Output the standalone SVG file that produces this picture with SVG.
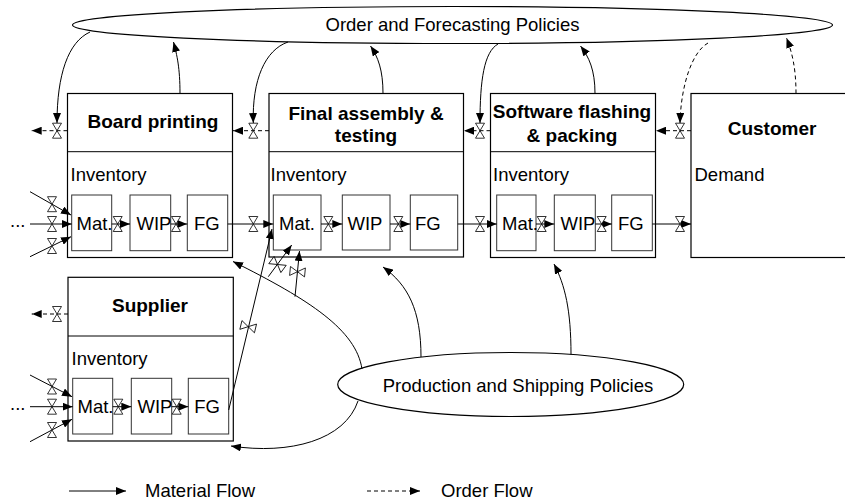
<svg xmlns="http://www.w3.org/2000/svg" width="845" height="504" viewBox="0 0 845 504">
<defs>
<style>
.box{fill:#fff;stroke:#000;stroke-width:1.2}
.inner{fill:#fff;stroke:#333;stroke-width:1}
.div{stroke:#000;stroke-width:1}
.t{font-family:"Liberation Sans",Arial,sans-serif;font-size:18.5px;fill:#000}
.b{font-family:"Liberation Sans",Arial,sans-serif;font-size:19px;font-weight:bold;fill:#000}
.m{fill:none;stroke:#000;stroke-width:1;marker-end:url(#arr)}
.o{fill:none;stroke:#000;stroke-width:1;stroke-dasharray:4 3;marker-end:url(#arr)}
.ell{fill:#fff;stroke:#000;stroke-width:1.2}
.v{fill:#fff;stroke:#000;stroke-width:0.8}
</style>
<marker id="arr" markerUnits="userSpaceOnUse" markerWidth="10" markerHeight="8" refX="10" refY="4" orient="auto" viewBox="0 0 10 8">
<path d="M0,0 L10,4 L0,8 Z" fill="#000"/>
</marker>
<path id="valve" d="M-4.5,-7.5 L4.5,-7.5 L-4.5,7.5 L4.5,7.5 Z"/>
</defs>

<g id="order-policies">
<ellipse class="ell" cx="452.5" cy="25" rx="380" ry="18.5"/>
<text class="t" x="452.5" y="31" text-anchor="middle" font-size="16.5">Order and Forecasting Policies</text>
</g>

<g id="production-policies">
<ellipse class="ell" cx="510.7" cy="384.5" rx="173" ry="32"/>
<text class="t" x="518" y="391.5" text-anchor="middle" font-size="18">Production and Shipping Policies</text>
</g>

<g id="board-printing">
<rect class="box" x="67.5" y="93.5" width="165" height="164"/>
<line class="div" x1="67.5" y1="151.7" x2="232.5" y2="151.7"/>
<text class="b" x="153" y="128" text-anchor="middle">Board printing</text>
<text class="t" x="70.5" y="181">Inventory</text>
<rect class="inner" x="71.7" y="195" width="40" height="55.7"/>
<rect class="inner" x="130" y="195" width="40.7" height="55.7"/>
<rect class="inner" x="187.3" y="195" width="40.4" height="55.7"/>
<text class="t" x="76.5" y="229.5">Mat.</text>
<text class="t" x="136.5" y="229.5">WIP</text>
<text class="t" x="194" y="229.5">FG</text>
</g>

<g id="final-assembly">
<rect class="box" x="269" y="93.5" width="194.5" height="163.5"/>
<line class="div" x1="269" y1="151.7" x2="463.5" y2="151.7"/>
<text class="b" x="366" y="119.5" text-anchor="middle">Final assembly &amp;</text>
<text class="b" x="366" y="142" text-anchor="middle">testing</text>
<text class="t" x="270.5" y="181">Inventory</text>
<rect class="inner" x="273.3" y="195" width="47.7" height="55"/>
<rect class="inner" x="342.3" y="195" width="47.7" height="55"/>
<rect class="inner" x="410.3" y="195" width="47.4" height="55"/>
<text class="t" x="279" y="229.5">Mat.</text>
<text class="t" x="347.5" y="229.5">WIP</text>
<text class="t" x="415" y="229.5">FG</text>
</g>

<g id="software-flashing">
<rect class="box" x="490.5" y="93.5" width="165" height="164"/>
<line class="div" x1="490.5" y1="151.7" x2="655.5" y2="151.7"/>
<text class="b" x="572" y="118.3" text-anchor="middle">Software flashing</text>
<text class="b" x="572" y="141.7" text-anchor="middle">&amp; packing</text>
<text class="t" x="493" y="181">Inventory</text>
<rect class="inner" x="496.7" y="195" width="39.3" height="55.7"/>
<rect class="inner" x="554.3" y="195" width="41" height="55.7"/>
<rect class="inner" x="611.7" y="195" width="40.6" height="55.7"/>
<text class="t" x="502" y="229.5">Mat.</text>
<text class="t" x="560.5" y="229.5">WIP</text>
<text class="t" x="618" y="229.5">FG</text>
</g>

<g id="customer">
<rect class="box" x="691" y="93.5" width="200" height="164"/>
<text class="b" x="772" y="135" text-anchor="middle">Customer</text>
<text class="t" x="694.5" y="181">Demand</text>
</g>

<g id="supplier">
<rect class="box" x="68" y="277.3" width="165.3" height="163.7"/>
<line class="div" x1="68" y1="336" x2="233.3" y2="336"/>
<text class="b" x="150" y="311.7" text-anchor="middle">Supplier</text>
<text class="t" x="71.5" y="365">Inventory</text>
<rect class="inner" x="72.7" y="378.3" width="40" height="55.7"/>
<rect class="inner" x="131.3" y="378.3" width="40.4" height="55.7"/>
<rect class="inner" x="188.3" y="378.3" width="40.4" height="55.7"/>
<text class="t" x="77.5" y="413.3">Mat.</text>
<text class="t" x="137.5" y="413.3">WIP</text>
<text class="t" x="194.3" y="413.3">FG</text>
</g>

<g id="connectors">
<path class="m" d="M90,32 C68,42 57,75 57,123"/>
<path class="m" d="M180,93.5 C180,68 177,55 173.5,42"/>
<path class="m" d="M288,42 C265,50 252,80 253.3,123"/>
<path class="m" d="M383,93.5 C383,70 378,57 370.5,46"/>
<path class="m" d="M498,44 C484,52 480,80 480,123"/>
<path class="m" d="M595,93.5 C595,70 589,57 580.5,46"/>
<path class="o" d="M708,43 C692,52 681,85 680,123"/>
<path class="o" d="M796,93.5 C796,68 792,52 786.5,38"/>
<path class="m" d="M362,369 C356,330 310,300 233,261.5"/>
<path class="m" d="M358,401 C345,440 290,455 231,446"/>
<path class="m" d="M421,357 C421,310 408,285 383,267"/>
<path class="m" d="M571,354.5 C571,310 565,285 554,264"/>
<line class="o" x1="67.5" y1="130.7" x2="31.7" y2="130.7"/>
<line class="o" x1="269" y1="130.7" x2="233" y2="130.7"/>
<line class="o" x1="490.5" y1="130.7" x2="464" y2="130.7"/>
<line class="o" x1="691" y1="130.7" x2="656" y2="130.7"/>
<line class="o" x1="68" y1="314" x2="31.7" y2="314"/>
<line class="m" x1="30" y1="191.7" x2="71" y2="215"/>
<line class="m" x1="30" y1="224" x2="71.7" y2="224"/>
<line class="m" x1="30" y1="256.7" x2="71" y2="236.7"/>
<line class="m" x1="111.7" y1="224" x2="130" y2="224"/>
<line class="m" x1="170.7" y1="224" x2="187.3" y2="224"/>
<line class="m" x1="227.7" y1="224" x2="273.3" y2="224"/>
<line class="m" x1="321" y1="224" x2="342.3" y2="224"/>
<line class="m" x1="390" y1="224" x2="410.3" y2="224"/>
<line class="m" x1="457.7" y1="224" x2="496.7" y2="224"/>
<line class="m" x1="536" y1="224" x2="554.3" y2="224"/>
<line class="m" x1="595.3" y1="224" x2="611.7" y2="224"/>
<line class="m" x1="652.3" y1="224" x2="691" y2="224"/>
<line class="m" x1="30" y1="375" x2="72" y2="396.7"/>
<line class="m" x1="30" y1="406.7" x2="72.7" y2="406.7"/>
<line class="m" x1="30" y1="441.7" x2="72" y2="419.3"/>
<line class="m" x1="112.7" y1="406.7" x2="131.3" y2="406.7"/>
<line class="m" x1="171.7" y1="406.7" x2="188.3" y2="406.7"/>
<line class="m" x1="228.7" y1="410" x2="272" y2="229"/>
<line class="m" x1="268.3" y1="276.7" x2="291.7" y2="245"/>
<line class="m" x1="295" y1="296.7" x2="299.5" y2="251"/>
<use href="#valve" class="v" x="57" y="130.7"/>
<use href="#valve" class="v" x="253.3" y="130.7"/>
<use href="#valve" class="v" x="480" y="130.7"/>
<use href="#valve" class="v" x="680" y="130.7"/>
<use href="#valve" class="v" x="57" y="314"/>
<use href="#valve" class="v" x="52" y="204.2"/>
<use href="#valve" class="v" x="52" y="224"/>
<use href="#valve" class="v" x="52" y="246"/>
<use href="#valve" class="v" x="117.7" y="224"/>
<use href="#valve" class="v" x="176" y="224"/>
<use href="#valve" class="v" x="253.3" y="224"/>
<use href="#valve" class="v" x="328.3" y="224"/>
<use href="#valve" class="v" x="398.3" y="224"/>
<use href="#valve" class="v" x="480" y="224"/>
<use href="#valve" class="v" x="541.7" y="224"/>
<use href="#valve" class="v" x="601.7" y="224"/>
<use href="#valve" class="v" x="680" y="224"/>
<use href="#valve" class="v" x="52" y="386.5"/>
<use href="#valve" class="v" x="52" y="406.7"/>
<use href="#valve" class="v" x="52" y="430"/>
<use href="#valve" class="v" x="118.3" y="406.7"/>
<use href="#valve" class="v" x="176.7" y="406.7"/>
<use href="#valve" class="v" transform="translate(248.2,326.7) rotate(-76.5)"/>
<use href="#valve" class="v" transform="translate(277.5,264.5) rotate(-53.6)"/>
<use href="#valve" class="v" transform="translate(297.5,271.7) rotate(-84.4)"/>
<text class="t" x="10" y="227" font-size="18">...</text>
<text class="t" x="10" y="410" font-size="18">...</text>
</g>

<g id="legend">
<line class="m" x1="69" y1="491" x2="126" y2="491"/>
<text class="t" x="145" y="497" font-size="18">Material Flow</text>
<line class="o" x1="367" y1="491" x2="420" y2="491"/>
<text class="t" x="441" y="497" font-size="18">Order Flow</text>
</g>
</svg>
